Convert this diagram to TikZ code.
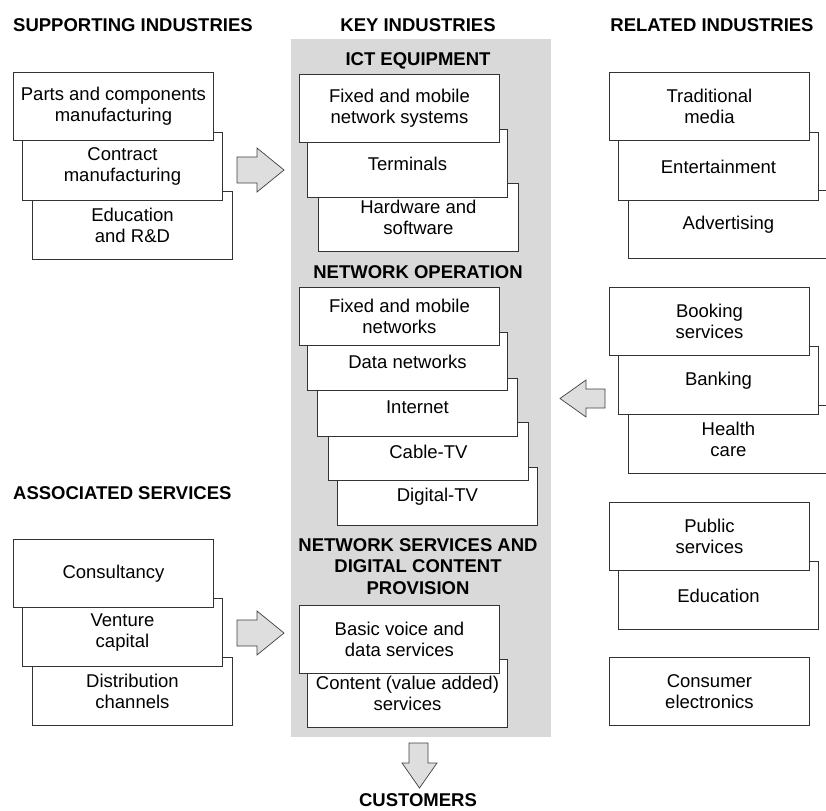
\documentclass[tikz,border=0pt]{standalone}
\usepackage{fontspec}
\setmainfont{Liberation Sans}
\begin{document}
\begin{tikzpicture}[x=1pt,y=-1pt,
  every node/.style={font=\fontsize{18.5}{21.5}\selectfont},
  boxA/.style={draw=black!80, line width=0.9pt, fill=white, minimum width=200pt, minimum height=68pt, anchor=north west, align=center, inner sep=0pt},
  boxB/.style={boxA, minimum height=58pt},
  head/.style={font=\fontsize{18.5}{21.5}\selectfont\bfseries, inner sep=0pt},
  blockarrow/.style={fill=black!13, draw=black!75, line width=0.7pt, line join=miter}]
\useasboundingbox (0,0) rectangle (826,810);
% key industries panel
\fill[black!15] (291,39) rectangle (551,737);

% headings
\node[head, anchor=base west] (hsup) at (13,32) {SUPPORTING INDUSTRIES};
\node[head, anchor=base] (hkey) at (418,32) {KEY INDUSTRIES};
\node[head, anchor=base] (hrel) at (712,32) {RELATED INDUSTRIES};
\node[head, anchor=base west] (hass) at (13,499) {ASSOCIATED SERVICES};
\node[head, anchor=base] (hict) at (418,66) {ICT EQUIPMENT};
\node[head, anchor=base] (hnet) at (418,278) {NETWORK OPERATION};
\node[head, align=center] (hsrv) at (418,566.5) {NETWORK SERVICES AND\\DIGITAL CONTENT\\PROVISION};
\node[head, anchor=base] (hcus) at (418,806) {CUSTOMERS};

% supporting industries
\node[boxA] (s3) at (32,191) {Education\\and R\&D};
\node[boxA] (s2) at (22,132) {Contract\\manufacturing};
\node[boxA] (s1) at (13,72) {Parts and components\\manufacturing};

% ICT equipment
\node[boxA] (k3) at (318,183) {Hardware and\\software};
\node[boxA] (k2) at (307,129) {Terminals};
\node[boxA] (k1) at (299,74) {Fixed and mobile\\network systems};

% network operation
\node[boxB] (n5) at (337,467) {Digital-TV};
\node[boxB] (n4) at (328,422) {Cable-TV};
\node[boxB] (n3) at (317,378) {Internet};
\node[boxB] (n2) at (307,332) {Data networks};
\node[boxB] (n1) at (299,287) {Fixed and mobile\\networks};

% network services
\node[boxA] (v2) at (307,659) {Content (value added)\\services};
\node[boxA] (v1) at (299,605) {Basic voice and\\data services};

% related industries
\node[boxA] (r3) at (628,190) {Advertising};
\node[boxA] (r2) at (618,132) {Entertainment};
\node[boxA] (r1) at (609,72) {Traditional\\media};
\node[boxA] (r6) at (628,405) {Health\\care};
\node[boxA] (r5) at (618,346) {Banking};
\node[boxA] (r4) at (609,287) {Booking\\services};
\node[boxA] (r8) at (618,561) {Education};
\node[boxA] (r7) at (609,502) {Public\\services};
\node[boxA] (r9) at (609,657) {Consumer\\electronics};

% associated services
\node[boxA] (a3) at (32,657) {Distribution\\channels};
\node[boxA] (a2) at (22,598) {Venture\\capital};
\node[boxA] (a1) at (13,539) {Consultancy};

% block arrows
\draw[blockarrow] (237,157) -- (257,157) -- (257,148) -- (284,170) -- (257,192) -- (257,183) -- (237,183) -- cycle;
\draw[blockarrow] (237,620) -- (257,620) -- (257,611) -- (284,633) -- (257,655) -- (257,646) -- (237,646) -- cycle;
\draw[blockarrow] (605,389) -- (586,389) -- (586,380) -- (560,398.5) -- (586,417) -- (586,408) -- (605,408) -- cycle;
\draw[blockarrow] (409,743) -- (428,743) -- (428,763) -- (437,763) -- (419.5,788) -- (402,763) -- (409,763) -- cycle;
\end{tikzpicture}
\end{document}
